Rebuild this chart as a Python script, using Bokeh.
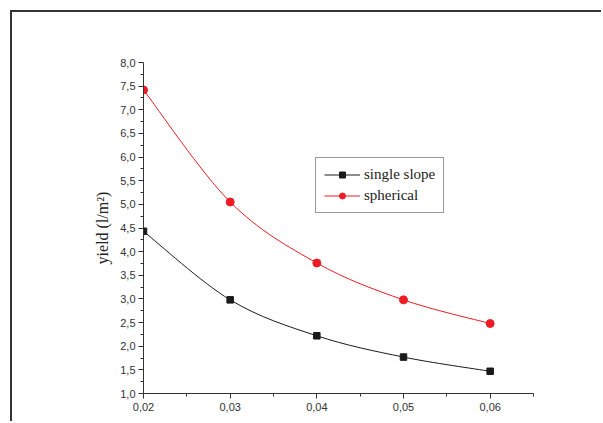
from bokeh.plotting import figure
from bokeh.models import FixedTicker, Legend, LegendItem, Range1d
from bokeh.embed import file_html
from bokeh.resources import INLINE

# data
x_vals = [0.02, 0.03, 0.04, 0.05, 0.06]
single_slope = [4.43, 2.98, 2.22, 1.77, 1.47]
spherical = [7.42, 5.05, 3.76, 2.98, 2.48]

y_ticks = [1.0, 1.5, 2.0, 2.5, 3.0, 3.5, 4.0, 4.5, 5.0, 5.5, 6.0, 6.5, 7.0, 7.5, 8.0]
y_labels = ["1,0", "1,5", "2,0", "2,5", "3,0", "3,5", "4,0", "4,5", "5,0", "5,5",
            "6,0", "6,5", "7,0", "7,5", "8,0"]
x_ticks = [0.02, 0.03, 0.04, 0.05, 0.06]
x_labels = ["0,02", "0,03", "0,04", "0,05", "0,06"]
y_minor = [1.25 + 0.5 * i for i in range(14)]
x_minor = [0.025, 0.035, 0.045, 0.055, 0.065]

p = figure(width=591, height=411, output_backend="svg", toolbar_location=None,
           x_range=Range1d(0.02, 0.065), y_range=Range1d(1.0, 8.0),
           min_border_left=131, min_border_right=70, min_border_top=50, min_border_bottom=30)
p.styles = {"border-left": "2px solid #333333", "border-top": "2px solid #333333",
            "margin-left": "10px", "margin-top": "10px"}
p.outline_line_color = None
p.xgrid.visible = False
p.ygrid.visible = False


def smooth(xs, ys):
    n = len(xs)
    x0, y0, x1, y1, cx0, cy0, cx1, cy1 = [], [], [], [], [], [], [], []
    for i in range(n - 1):
        im = max(i - 1, 0)
        ip = min(i + 2, n - 1)
        x0.append(xs[i]); y0.append(ys[i])
        x1.append(xs[i + 1]); y1.append(ys[i + 1])
        cx0.append(xs[i] + (xs[i + 1] - xs[im]) / 6.0)
        cy0.append(ys[i] + (ys[i + 1] - ys[im]) / 6.0)
        cx1.append(xs[i + 1] - (xs[ip] - xs[i]) / 6.0)
        cy1.append(ys[i + 1] - (ys[ip] - ys[i]) / 6.0)
    return dict(x0=x0, y0=y0, x1=x1, y1=y1, cx0=cx0, cy0=cy0, cx1=cx1, cy1=cy1)


black = "#1a1a1a"
red = "#ee1c24"

b1 = p.bezier(line_color=black, line_width=1, **smooth(x_vals, single_slope))
b2 = p.bezier(line_color=red, line_width=1, **smooth(x_vals, spherical))

s1 = p.scatter(x_vals, single_slope, marker="square", size=6.5, color=black)
s2 = p.scatter(x_vals, spherical, marker="circle", size=8, color=red)

legend = Legend(items=[LegendItem(label="single slope", renderers=[b1, s1], index=0),
                       LegendItem(label="spherical", renderers=[b2, s2], index=0)],
                location=(172, 180), border_line_color="#333333", border_line_width=1,
                label_text_font="Liberation Serif", label_text_font_size="15px",
                label_text_color="#222222", glyph_width=36, glyph_height=15,
                spacing=4, padding=8, margin=0, label_standoff=4,
                background_fill_alpha=1.0)
p.add_layout(legend, "center")

for ax in (p.xaxis[0], p.yaxis[0]):
    ax.axis_line_color = "#333333"
    ax.major_tick_line_color = "#333333"
    ax.minor_tick_line_color = "#333333"
    ax.major_tick_in = 0
    ax.major_tick_out = 5
    ax.minor_tick_in = 0
    ax.minor_tick_out = 3
    ax.major_label_text_font = "Liberation Sans"
    ax.major_label_text_font_size = "11px"
    ax.major_label_text_color = "#333333"

p.yaxis.ticker = FixedTicker(ticks=y_ticks, minor_ticks=y_minor)
p.yaxis.major_label_overrides = dict(zip(y_ticks, y_labels))
p.yaxis.major_label_standoff = 3
p.xaxis.ticker = FixedTicker(ticks=x_ticks, minor_ticks=x_minor)
p.xaxis.major_label_overrides = dict(zip(x_ticks, x_labels))
p.xaxis.major_label_standoff = 4

p.yaxis.axis_label = "yield (l/m²)"
p.yaxis.axis_label_text_font = "Liberation Serif"
p.yaxis.axis_label_text_font_style = "normal"
p.yaxis.axis_label_text_font_size = "16px"
p.yaxis.axis_label_text_color = "#222222"
p.yaxis.axis_label_standoff = 6

open("out.html", "w").write(file_html(p, INLINE))
